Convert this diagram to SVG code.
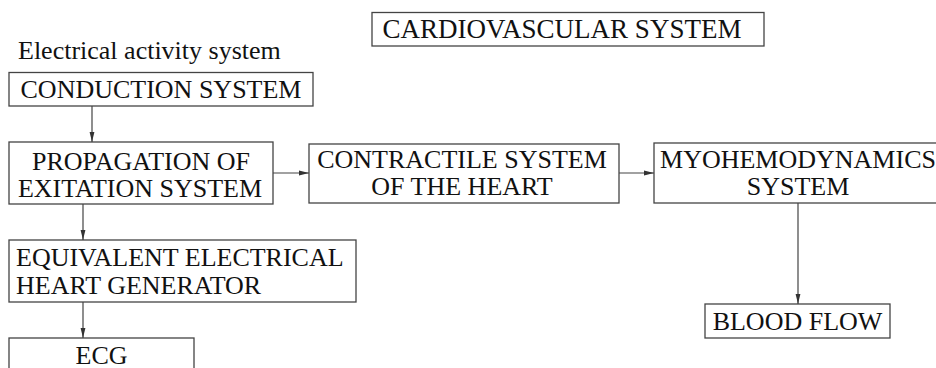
<svg xmlns="http://www.w3.org/2000/svg" width="936" height="368" viewBox="0 0 936 368">
<style>
rect.box{fill:#fff;stroke:#444;stroke-width:1.3}
text{font-family:"Liberation Serif","Times New Roman",serif;font-size:26px;fill:#111}
.c{text-anchor:middle}
.conn line{stroke:#444;stroke-width:1.2;marker-end:url(#ah)}
</style>
<defs>
<marker id="ah" viewBox="0 0 10 6" refX="10" refY="3" markerWidth="10" markerHeight="6" markerUnits="userSpaceOnUse" orient="auto">
<path d="M0,0.6 L10,3 L0,5.4 Z" fill="#333"/>
</marker>
</defs>
<rect width="936" height="368" fill="#fff"/>
<g id="title">
<rect class="box" x="372" y="12.5" width="392" height="33.5"/>
<text class="c" x="562" y="38" style="font-size:27px">CARDIOVASCULAR SYSTEM</text>
</g>
<g id="electrical-label">
<text x="18" y="59">Electrical activity system</text>
</g>
<g id="conduction">
<rect class="box" x="9" y="72.5" width="304" height="33.5"/>
<text class="c" x="161" y="98">CONDUCTION SYSTEM</text>
</g>
<g id="propagation">
<rect class="box" x="9" y="142" width="264" height="62"/>
<text class="c" x="141" y="170">PROPAGATION OF</text>
<text class="c" x="140" y="197">EXITATION SYSTEM</text>
</g>
<g id="contractile">
<rect class="box" x="309" y="144" width="310" height="59"/>
<text class="c" x="462" y="168">CONTRACTILE SYSTEM</text>
<text class="c" x="462" y="195">OF THE HEART</text>
</g>
<g id="myohemodynamics">
<rect class="box" x="654" y="143" width="300" height="60"/>
<text class="c" x="798" y="168">MYOHEMODYNAMICS</text>
<text class="c" x="798" y="195">SYSTEM</text>
</g>
<g id="equivalent">
<rect class="box" x="9" y="240" width="347" height="62"/>
<text x="16" y="266">EQUIVALENT ELECTRICAL</text>
<text x="16" y="294">HEART GENERATOR</text>
</g>
<g id="blood-flow">
<rect class="box" x="705" y="304" width="185" height="34"/>
<text class="c" x="797.5" y="330">BLOOD FLOW</text>
</g>
<g id="ecg">
<rect class="box" x="9" y="338" width="185" height="40"/>
<text class="c" x="101.5" y="364">ECG</text>
</g>
<g id="connectors" class="conn">
<line x1="92" y1="106" x2="92" y2="142"/>
<line x1="83" y1="204" x2="83" y2="240"/>
<line x1="83" y1="302" x2="83" y2="338"/>
<line x1="273" y1="173" x2="309" y2="173"/>
<line x1="619" y1="173" x2="654" y2="173"/>
<line x1="798" y1="203" x2="798" y2="304"/>
</g>
</svg>
